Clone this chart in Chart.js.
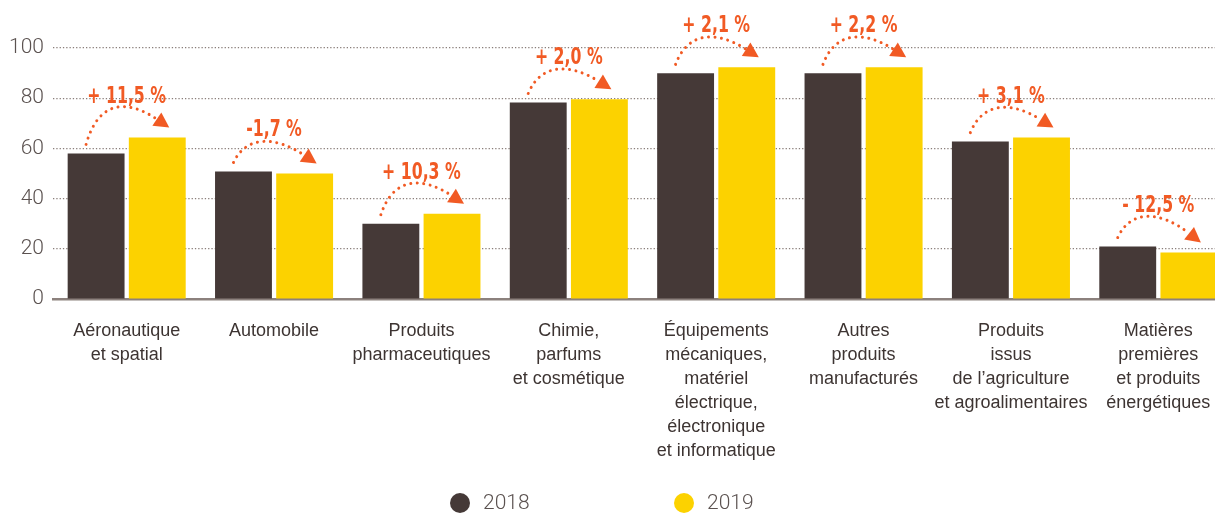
<!DOCTYPE html>
<html lang="fr">
<head>
<meta charset="UTF-8">
<title>Exportations par secteur 2018-2019</title>
<script src="https://cdn.jsdelivr.net/npm/chart.js"></script>
<style>
  html, body { margin: 0; padding: 0; background: #fff; overflow: hidden; }
  #wrap { width: 1235px; height: 515px; }
</style>
</head>
<body>
<div id="wrap"><canvas id="chart" width="1235" height="515"></canvas></div>
<script>
// data
const categories = [
  ['Aéronautique', 'et spatial'],
  ['Automobile'],
  ['Produits', 'pharmaceutiques'],
  ['Chimie,', 'parfums', 'et cosmétique'],
  ['Équipements', 'mécaniques,', 'matériel', 'électrique,', 'électronique', 'et informatique'],
  ['Autres', 'produits', 'manufacturés'],
  ['Produits', 'issus', 'de l’agriculture', 'et agroalimentaires'],
  ['Matières', 'premières', 'et produits', 'énergétiques']
];
const values2018 = [58.0, 50.8, 30.0, 78.3, 89.9, 89.9, 62.7, 20.9];
const values2019 = [64.3, 50.0, 34.0, 79.6, 92.3, 92.3, 64.3, 18.5];
const changes = ['+ 11,5 %', '-1,7 %', '+ 10,3 %', '+ 2,0 %', '+ 2,1 %', '+ 2,2 %', '+ 3,1 %', '- 12,5 %'];
const yTicks = [0, 20, 40, 60, 80, 100];
const seriesNames = ['2018', '2019'];

const BROWN = '#453937';
const YELLOW = '#fcd200';
const ORANGE = '#f15a24';
const TEXT = '#3d3432';
const TICK = '#5b5250';

// dotted arc + arrow + percentage above each pair of bars
const changeArrows = {
  id: 'changeArrows',
  afterDatasetsDraw(chart) {
    const ctx = chart.ctx;
    const m0 = chart.getDatasetMeta(0).data;
    const m1 = chart.getDatasetMeta(1).data;
    ctx.save();
    ctx.strokeStyle = ORANGE;
    ctx.fillStyle = ORANGE;
    changes.forEach((txt, i) => {
      const a = m0[i], b = m1[i];
      const x0 = a.x - 10, y0 = a.y - 9;
      const tx = b.x + 12, ty = b.y - 10;
      const peak = Math.min(a.y, b.y) - 29;
      const cy = (8 * peak - y0 - ty) / 6;
      const dx = tx - x0;
      const c1x = x0 + dx * 0.15, c2x = tx - dx * 0.5;
      let ux = tx - c2x, uy = ty - cy;
      const len = Math.hypot(ux, uy);
      ux /= len; uy /= len;
      const bx = tx - ux * 15, by = ty - uy * 15;

      ctx.lineWidth = 3;
      ctx.lineCap = 'round';
      ctx.setLineDash([0.01, 6.5]);
      ctx.beginPath();
      ctx.moveTo(x0, y0);
      ctx.bezierCurveTo(c1x, cy, c2x, cy, bx, by);
      ctx.stroke();
      ctx.setLineDash([]);

      ctx.beginPath();
      ctx.moveTo(tx, ty);
      ctx.lineTo(bx - uy * 8, by + ux * 8);
      ctx.lineTo(bx + uy * 8, by - ux * 8);
      ctx.closePath();
      ctx.fill();

      // condensed bold label
      ctx.save();
      ctx.translate((a.x + b.x) / 2, peak - 6);
      ctx.scale(0.76, 1);
      ctx.font = 'bold 23px "DejaVu Sans Condensed", "DejaVu Sans", sans-serif';
      ctx.textAlign = 'center';
      ctx.textBaseline = 'alphabetic';
      ctx.fillText(txt, 0, 0);
      ctx.restore();
    });
    ctx.restore();
  }
};

// round dots legend at the bottom
const dotLegend = {
  id: 'dotLegend',
  afterDraw(chart) {
    const ctx = chart.ctx;
    const y = 503;
    ctx.save();
    chart.data.datasets.forEach((ds, i) => {
      const x = 460 + i * 224;
      ctx.beginPath();
      ctx.arc(x, y, 10, 0, Math.PI * 2);
      ctx.fillStyle = ds.backgroundColor;
      ctx.fill();
      ctx.font = '300 21px Roboto, "Liberation Sans", sans-serif';
      ctx.fillStyle = TICK;
      ctx.textAlign = 'left';
      ctx.textBaseline = 'middle';
      ctx.fillText(ds.label, x + 23, y + 1);
    });
    ctx.restore();
  }
};

new Chart(document.getElementById('chart'), {
  type: 'bar',
  data: {
    labels: categories,
    datasets: [
      { label: seriesNames[0], data: values2018, backgroundColor: BROWN },
      { label: seriesNames[1], data: values2019, backgroundColor: YELLOW }
    ]
  },
  options: {
    responsive: false,
    animation: false,
    layout: { padding: { top: 48, right: 3, left: 0, bottom: 0 } },
    datasets: { bar: { barPercentage: 0.93, categoryPercentage: 0.83 } },
    plugins: {
      legend: { display: false },
      tooltip: { enabled: false }
    },
    scales: {
      x: {
        grid: { display: false, drawTicks: false },
        border: { display: true, color: '#8c817d', width: 2.5 },
        ticks: {
          color: TEXT,
          font: { family: '"Liberation Sans", Arial, sans-serif', size: 18, lineHeight: 1.333 },
          padding: 20,
          maxRotation: 0,
          autoSkip: false
        },
        afterFit(scale) { scale.height = 216; }
      },
      y: {
        min: 0,
        max: 100,
        afterBuildTicks(scale) { scale.ticks = yTicks.map(v => ({ value: v })); },
        grid: {
          color: c => (c.tick && c.tick.value === 0) ? 'rgba(0,0,0,0)' : '#8a7f7b',
          lineWidth: 1.2,
          drawTicks: false
        },
        border: { display: false, dash: [1.3, 2] },
        ticks: {
          color: TICK,
          font: { family: 'Roboto, "Liberation Sans", sans-serif', size: 21, weight: '300' },
          padding: 9
        },
        afterFit(scale) { scale.width = 53; }
      }
    }
  },
  plugins: [changeArrows, dotLegend]
});
</script>
</body>
</html>
